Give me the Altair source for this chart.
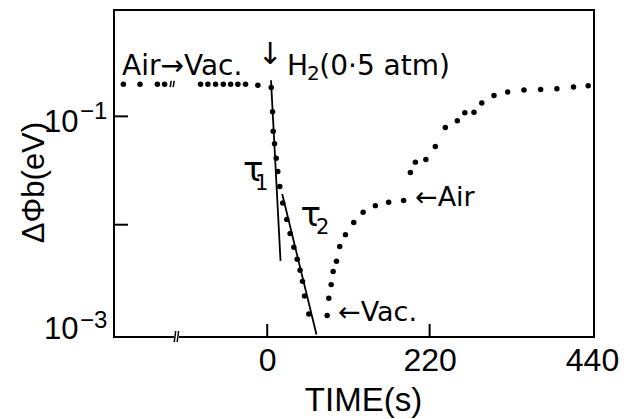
import altair as alt
import pandas as pd

# ---- data ----
time_s = [-194.9, -172.4, -148.8, -139.0, -90.3, -80.4, -70.0, -59.5, -49.6, -39.8, -29.4, -12.7,
          5.4, 7.2, 8.1, 9.9, 12.2, 14.3, 17.0,
          21.0, 26.5, 31.0, 36.0, 40.6, 44.5, 47.8, 50.5, 56.3,
          81.2, 83.4, 86.6, 89.3, 93.8, 98.2, 106.0, 117.2, 129.9, 146.5, 164.5, 184.8,
          193.9, 200.7, 214.9, 227.7, 241.3, 257.5, 267.7, 280.1, 290.7, 307.2, 325.8,
          347.8, 370.4, 392.4, 414.9, 434.8]
dphi_ev = [0.198, 0.198, 0.198, 0.198, 0.198, 0.198, 0.198, 0.198, 0.198, 0.198, 0.198, 0.194,
           0.185, 0.110, 0.073, 0.056, 0.041, 0.031, 0.0225,
           0.0159, 0.0112, 0.0083, 0.0062, 0.0048, 0.0038, 0.0030, 0.0022, 0.0015,
           0.00145, 0.0021, 0.0028, 0.0037, 0.0046, 0.0063, 0.0081, 0.0105, 0.0130, 0.0150, 0.0161, 0.0167,
           0.0303, 0.0378, 0.040, 0.0527, 0.079, 0.091, 0.108, 0.109, 0.133, 0.156, 0.168,
           0.175, 0.177, 0.180, 0.187, 0.192]

# fitted time-constant lines
fit_name = ["tau1", "tau1", "tau2", "tau2"]
fit_time = [5.1, 18.0, 20.3, 66.7]
fit_val = [0.215, 0.00464, 0.0192, 0.00097]

x_ticks = [0, 220, 440]
y_label_vals = [0.1, 0.001]
y_label_exp = ["\u22121", "\u22123"]
y_minor_ticks = [0.1, 0.01]
x_inner_ticks = [0, 220]

W, H = 480, 327
FONT = "Liberation Sans"
AFONT = "DejaVu Sans"

xs = alt.Scale(domain=[-207.6, 442.7], nice=False, zero=False)
ys = alt.Scale(type="log", domain=[0.00092, 0.958], nice=False)

pts = pd.DataFrame({"t": time_s, "v": dphi_ev})
fits = pd.DataFrame({"name": fit_name, "t": fit_time, "v": fit_val})

points = alt.Chart(pts).mark_circle(size=30, color="black", opacity=1).encode(
    x=alt.X("t:Q", scale=xs, axis=alt.Axis(
        values=x_ticks, title="TIME(s)", grid=False, ticks=False, domain=False,
        labelFont=FONT, labelFontSize=32, labelPadding=8, labelColor="black",
        labelFlush=False,
        titleFont=FONT, titleFontSize=33, titleFontWeight="normal", titleColor="black",
        titleX=249, titleY=63, titleBaseline="middle", titleAlign="center")),
    y=alt.Y("v:Q", scale=ys, axis=alt.Axis(
        values=y_label_vals, labelExpr="'10'", title="\u0394\u03a6b(eV)", grid=False,
        ticks=False, domain=False, labelFont=FONT, labelFontSize=31, labelPadding=36,
        labelColor="black", labelBaseline="middle",
        labelOffset={"condition": {"test": "datum.value > 0.01", "value": 6}, "value": -4},
        labelFlush=False,
        titleFont=FONT, titleFontSize=31, titleFontWeight="normal", titleColor="black",
        titleAngle=270, titleX=-80, titleY=172, titleBaseline="middle", titleAlign="center")),
)

fit_lines = alt.Chart(fits).mark_line(color="black", strokeWidth=1.8, clip=True).encode(
    x=alt.X("t:Q", scale=xs), y=alt.Y("v:Q", scale=ys), detail="name:N")

# exponents of the y tick labels
exp_df = pd.DataFrame({"v": y_label_vals, "e": y_label_exp})
exp_hi = alt.Chart(exp_df).transform_filter("datum.v > 0.01").mark_text(
    font=FONT, fontSize=24, align="left", baseline="middle", dy=-4, color="black").encode(
    x=alt.value(-34), y=alt.Y("v:Q", scale=ys), text="e:N")
exp_lo = alt.Chart(exp_df).transform_filter("datum.v < 0.01").mark_text(
    font=FONT, fontSize=24, align="left", baseline="middle", dy=-12, color="black").encode(
    x=alt.value(-34), y=alt.Y("v:Q", scale=ys), text="e:N")

# inward ticks
yt = alt.Chart(pd.DataFrame({"v": y_minor_ticks})).mark_rule(color="black", strokeWidth=2).encode(
    y=alt.Y("v:Q", scale=ys), x=alt.value(0), x2=alt.value(14))
xt = alt.Chart(pd.DataFrame({"t": x_inner_ticks})).mark_rule(color="black", strokeWidth=2).encode(
    x=alt.X("t:Q", scale=xs), y=alt.value(H), y2=alt.value(H - 13))

# axis-break marks
brk_axis = pd.DataFrame({"id": ["a", "b"], "t1": [-126.0, -122.0], "t2": [-124.0, -120.0]})
brk_gap = alt.Chart(pd.DataFrame({"t1": [-126.5], "t2": [-119.5]})).mark_rect(color="white").encode(
    x=alt.X("t1:Q", scale=xs), x2="t2:Q", y=alt.value(H - 2), y2=alt.value(H + 2))
brk1 = alt.Chart(brk_axis).mark_rule(color="black", strokeWidth=1.5).encode(
    x=alt.X("t1:Q", scale=xs), x2="t2:Q", y=alt.value(H + 5), y2=alt.value(H - 6))
brk_data = pd.DataFrame({"t1": [-131.5, -127.5], "t2": [-130.0, -126.0], "v1": [0.186, 0.186], "v2": [0.212, 0.212]})
brk2 = alt.Chart(brk_data).mark_rule(color="black", strokeWidth=1.5).encode(
    x=alt.X("t1:Q", scale=xs), x2="t2:Q", y=alt.Y("v1:Q", scale=ys), y2="v2:Q")

# annotations
ann = [
    dict(text="Air\u2192Vac.", t=-196.7, v=0.241, size=28, align="left", baseline="alphabetic"),
    dict(text="\u2193", t=3.8, v=0.368, size=30, align="center", baseline="middle"),
    dict(text="H", t=26.8, v=0.241, size=28, align="left", baseline="alphabetic"),
    dict(text="2", t=54.0, v=0.217, size=20, align="left", baseline="alphabetic"),
    dict(text="(0\u00b75 atm)", t=70.5, v=0.241, size=28, align="left", baseline="alphabetic"),
    dict(text="\u03c4", t=-32.8, v=0.0315, size=34, align="left", baseline="middle"),
    dict(text="1", t=-16.5, v=0.0238, size=21, align="left", baseline="middle"),
    dict(text="\u03c4", t=44.9, v=0.01205, size=34, align="left", baseline="middle"),
    dict(text="2", t=66.1, v=0.00933, size=21, align="left", baseline="middle"),
    dict(text="\u2190Vac.", t=95.9, v=0.00153, size=27, align="left", baseline="middle"),
    dict(text="\u2190Air", t=200.2, v=0.01766, size=27, align="left", baseline="middle"),
]
ann_layers = []
for a in ann:
    ann_layers.append(
        alt.Chart(pd.DataFrame([a])).mark_text(font=AFONT, fontSize=a["size"], align=a["align"],
                                               baseline=a["baseline"], color="black").encode(
            x=alt.X("t:Q", scale=xs), y=alt.Y("v:Q", scale=ys), text="text:N"))

chart = alt.layer(points, fit_lines, exp_hi, exp_lo, yt, xt, brk_gap, brk1, brk2, *ann_layers).properties(
    width=W, height=H,
    background="white",
    autosize=alt.AutoSizeParams(type="none"),
    padding={"left": 114, "top": 10, "right": 32, "bottom": 82},
).configure_view(stroke="black", strokeWidth=2)

chart.save("out.html", embed_options={"renderer": "svg", "actions": False})
